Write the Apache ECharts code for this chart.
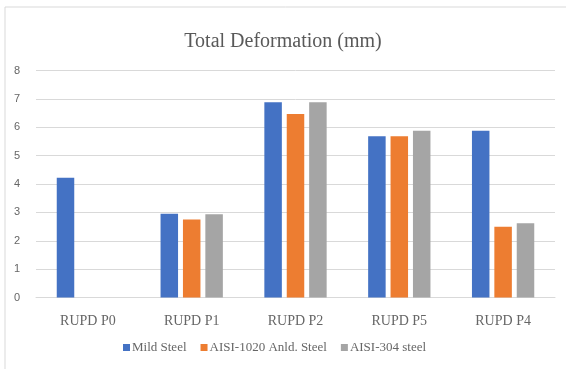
<!DOCTYPE html>
<html>
<head>
<meta charset="utf-8">
<style>
  html, body { margin: 0; padding: 0; background: #fff; }
  #box { width: 566px; height: 369px; }
</style>
<script src="https://cdn.jsdelivr.net/npm/echarts@6/dist/echarts.min.js"></script>
</head>
<body>
<div id="box"></div>
<script>
// categories and series values
var categories = ['RUPD P0', 'RUPD P1', 'RUPD P2', 'RUPD P5', 'RUPD P4'];
var mildSteel = [4.22, 2.95, 6.88, 5.68, 5.88];
var aisi1020 = [null, 2.75, 6.47, 5.68, 2.49];
var aisi304 = [null, 2.93, 6.88, 5.88, 2.62];
var seriesNames = ['Mild Steel', 'AISI-1020 Anld. Steel', 'AISI-304 steel'];

window.onload = function () {
    var charts = echarts.init(document.getElementById('box'));

    var serif = 'Liberation Serif';

    var option = {
        animation: false,
        color: ['#4472C4', '#ED7D31', '#A5A5A5'],
        title: {
            text: 'Total Deformation (mm)',
            left: 'center',
            top: 27,
            textStyle: {
                fontFamily: serif,
                fontSize: 20,
                fontWeight: 'normal',
                color: '#595959'
            }
        },
        legend: {
            bottom: 10,
            left: 118,
            itemWidth: 7,
            itemHeight: 7,
            itemGap: 14,
            icon: 'rect',
            textStyle: {
                fontFamily: serif,
                fontSize: 13,
                color: '#666666',
                padding: [0, 0, 0, -3]
            },
            data: seriesNames
        },
        grid: {
            left: 36,
            right: 11,
            top: 70.5,
            bottom: 71.5
        },
        xAxis: {
            type: 'category',
            data: categories,
            axisTick: { show: false },
            axisLine: { lineStyle: { color: '#D9D9D9' } },
            axisLabel: {
                fontFamily: serif,
                fontSize: 14,
                color: '#666666',
                margin: 17
            }
        },
        yAxis: {
            type: 'value',
            min: 0,
            max: 8,
            interval: 1,
            axisLine: { show: false },
            axisTick: { show: false },
            axisLabel: {
                fontFamily: 'Liberation Sans',
                fontSize: 11,
                color: '#666666',
                margin: 16
            },
            splitLine: { lineStyle: { color: '#D9D9D9' } }
        },
        graphic: [
            {
                type: 'line',
                shape: { x1: 5, y1: 7, x2: 566, y2: 7 },
                style: { stroke: '#D9D9D9', lineWidth: 1 }
            },
            {
                type: 'line',
                shape: { x1: 5, y1: 7, x2: 5, y2: 369 },
                style: { stroke: '#D9D9D9', lineWidth: 1 }
            }
        ],
        series: [
            { name: seriesNames[0], type: 'bar', data: mildSteel, barWidth: 17.5, barGap: '28%' },
            { name: seriesNames[1], type: 'bar', data: aisi1020, barWidth: 17.5, barGap: '28%' },
            { name: seriesNames[2], type: 'bar', data: aisi304, barWidth: 17.5, barGap: '28%' }
        ]
    };

    charts.setOption(option);
};
</script>
</body>
</html>
